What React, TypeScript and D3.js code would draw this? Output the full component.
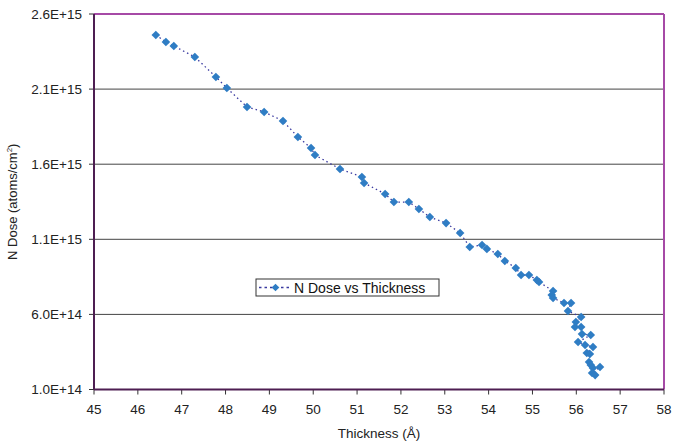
import React from "react";
import * as d3 from "d3";

const thickness = [46.41, 46.64, 46.82, 47.3, 47.78, 48.03, 48.49, 48.88, 49.31, 49.65, 49.95, 50.04, 50.61, 51.11, 51.16, 51.64, 51.84, 52.18, 52.41, 52.66, 53.03, 53.35, 53.57, 53.85, 53.96, 54.21, 54.37, 54.62, 54.74, 54.92, 55.1, 55.15, 55.47, 55.44, 55.47, 55.72, 55.88, 55.81, 56.11, 55.99, 55.97, 56.11, 56.13, 56.33, 56.04, 56.2, 56.38, 56.24, 56.31, 56.29, 56.33, 56.38, 56.54, 56.36, 56.43];
const dose = [2.46e15, 2.414e15, 2.387e15, 2.314e15, 2.181e15, 2.107e15, 1.981e15, 1.948e15, 1.888e15, 1.781e15, 1.708e15, 1.661e15, 1.568e15, 1.515e15, 1.475e15, 1.402e15, 1.348e15, 1.348e15, 1.302e15, 1.248e15, 1.208e15, 1.142e15, 1.049e15, 1.062e15, 1.036e15, 1.002e15, 0.956e15, 0.909e15, 0.862e15, 0.862e15, 0.829e15, 0.816e15, 0.756e15, 0.729e15, 0.709e15, 0.676e15, 0.676e15, 0.623e15, 0.583e15, 0.549e15, 0.516e15, 0.516e15, 0.469e15, 0.463e15, 0.416e15, 0.396e15, 0.383e15, 0.343e15, 0.336e15, 0.283e15, 0.263e15, 0.243e15, 0.25e15, 0.21e15, 0.196e15];
const xTicks = [45, 46, 47, 48, 49, 50, 51, 52, 53, 54, 55, 56, 57, 58];
const yTicks = [1.0e14, 6.0e14, 1.1e15, 1.6e15, 2.1e15, 2.6e15];
const yTickLabels = ["1.0E+14", "6.0E+14", "1.1E+15", "1.6E+15", "2.1E+15", "2.6E+15"];
const seriesName = "N Dose vs Thickness";

const W = 673, H = 444;
const L = 94, R = 664, T = 14, B = 389.5;
const FONT = "'Liberation Sans', Arial, sans-serif";
const MARK = "#2f7dc4";
const LINE = "#3a3aa0";

export default function App() {
  const x = d3.scaleLinear().domain([45, 58]).range([L, R]);
  const y = d3.scaleLinear().domain([1.0e14, 2.6e15]).range([B, T]);
  const pts = thickness.map((t, i) => [x(t), y(dose[i])] as [number, number]);
  const line = d3.line()(pts) || "";
  const diamond = (cx: number, cy: number, r = 4.3) =>
    `M${cx},${cy - r}L${cx + r},${cy}L${cx},${cy + r}L${cx - r},${cy}Z`;

  const lgX = 256, lgY = 279, lgW = 183, lgH = 17;

  return (
    <svg width={W} height={H} style={{ position: "absolute", left: 0, top: 0, background: "#fff" }}>
      {yTicks.slice(1, -1).map((v, i) => (
        <line key={i} x1={L} x2={R} y1={y(v)} y2={y(v)} stroke="#444" strokeWidth={1} />
      ))}
      {yTicks.map((v, i) => (
        <g key={i}>
          <line x1={L - 5} x2={L} y1={y(v)} y2={y(v)} stroke="#333" strokeWidth={1} />
          <text x={L - 12} y={y(v)} dy="0.35em" textAnchor="end" fontFamily={FONT} fontSize={13.5} fill="#222">
            {yTickLabels[i]}
          </text>
        </g>
      ))}
      {xTicks.map((v, i) => (
        <g key={i}>
          <line x1={x(v)} x2={x(v)} y1={B} y2={B + 5} stroke="#333" strokeWidth={1} />
          <text x={x(v)} y={B + 24} textAnchor="middle" fontFamily={FONT} fontSize={13.5} fill="#222">
            {v}
          </text>
        </g>
      ))}
      <line x1={L} x2={R} y1={T} y2={T} stroke="#a64aa6" strokeWidth={2} />
      <line x1={R} x2={R} y1={T} y2={B} stroke="#a64aa6" strokeWidth={2} />
      <line x1={L} x2={L} y1={T} y2={B} stroke="#4e1e52" strokeWidth={2} />
      <line x1={L} x2={R} y1={B} y2={B} stroke="#4e1e52" strokeWidth={2} />
      <path d={line} fill="none" stroke={LINE} strokeWidth={1.3} strokeDasharray="1.5,3" />
      {pts.map(([cx, cy], i) => (
        <path key={i} d={diamond(cx, cy)} fill={MARK} />
      ))}
      <text x={(L + R) / 2} y={438} textAnchor="middle" fontFamily={FONT} fontSize={13.5} fill="#222">
        Thickness (Å)
      </text>
      <text transform={`translate(17,${(T + B) / 2}) rotate(-90)`} textAnchor="middle" fontFamily={FONT} fontSize={13} fill="#222">
        N Dose (atoms/cm<tspan dy="-5" fontSize={8}>2</tspan><tspan dy="5">)</tspan>
      </text>
      <rect x={lgX} y={lgY} width={lgW} height={lgH} fill="#fff" stroke="#333" strokeWidth={1} />
      <line x1={lgX + 3} x2={lgX + 36} y1={lgY + lgH / 2} y2={lgY + lgH / 2} stroke={LINE} strokeWidth={1.3} strokeDasharray="2.5,3" />
      <path d={diamond(lgX + 19.5, lgY + lgH / 2, 3.8)} fill={MARK} />
      <text x={lgX + 38} y={lgY + lgH / 2} dy="0.36em" fontFamily={FONT} fontSize={14} fill="#111">
        {seriesName}
      </text>
    </svg>
  );
}
